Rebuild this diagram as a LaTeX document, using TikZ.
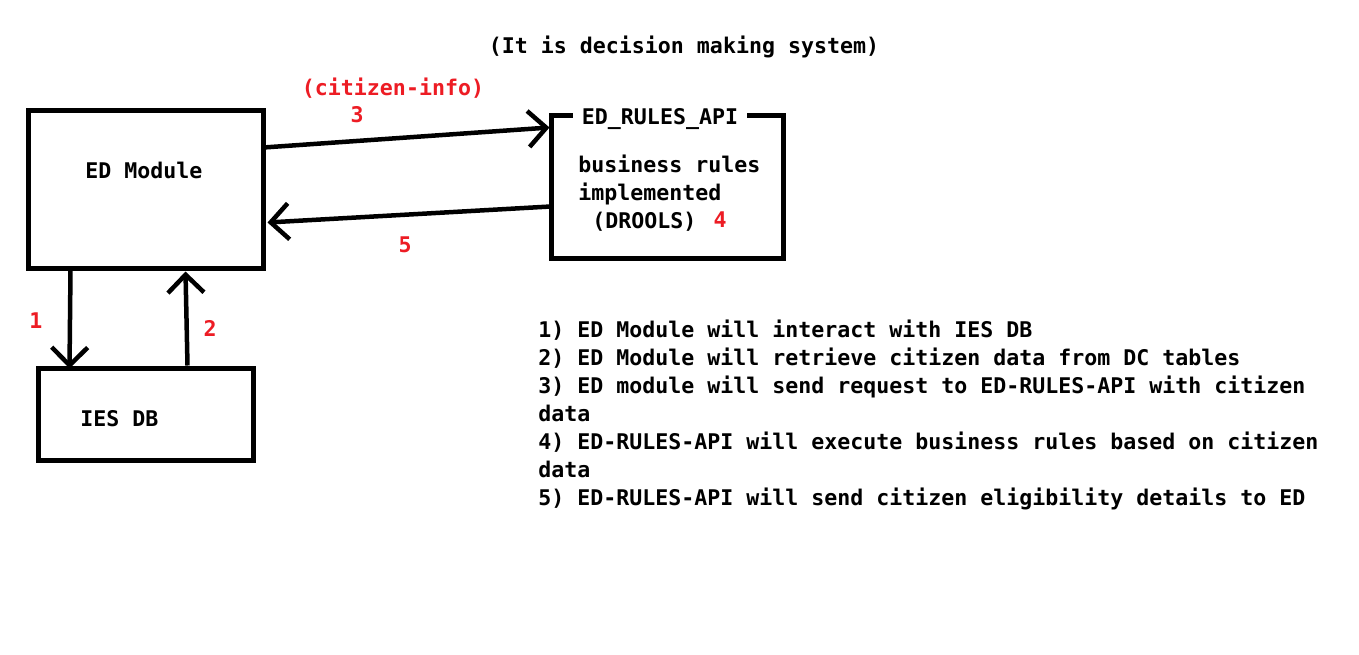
\documentclass[tikz,border=0pt]{standalone}
\usepackage{fontspec}
\newfontfamily\cons{DejaVu Sans Mono}
\usetikzlibrary{arrows.meta,calc}
\definecolor{pred}{RGB}{237,28,36}
\def\u{0.75pt}
\tikzset{
  box/.style={draw=black, line width=5*\u, minimum width=#1, inner sep=0pt},
  txt/.style={font=\cons\bfseries\fontsize{16.2pt}{21pt}\selectfont, inner sep=0pt, text=black},
  rtxt/.style={txt, text=pred},
  arr/.style={line width=4.5*\u, draw=black, -{Straight Barb[length=18*\u, width=36*\u, line width=4.5*\u]}}
}
\begin{document}
\begin{tikzpicture}[x=0.75pt,y=-0.75pt]
\useasboundingbox[fill=white] (0,0) rectangle (1359,654);
% boxes
\node[box=235*\u, minimum height=158*\u] (edm) at (145.5,189) {};
\node[box=215*\u, minimum height=92*\u] (ies) at (145.5,414) {};
\node[box=232*\u, minimum height=143*\u] (api) at (667,186.5) {};
\node[txt, fill=white, inner xsep=9*\u, inner ysep=4*\u, anchor=base] (apit) at (660,124) {ED\_RULES\_API};
% box texts
\node[txt, anchor=base west] (edmt) at (85,178) {ED Module};
\node[txt, anchor=base west] (iest) at (80,426) {IES DB};
\node[txt, anchor=base west] (b1) at (578,172) {business rules};
\node[txt, anchor=base west] (b2) at (578,200) {implemented};
\node[txt, anchor=base west] (b3) at (592,228) {(DROOLS)};
% title
\node[txt, anchor=base] (title) at (684,53) {(It is decision making system)};
% red labels
\node[rtxt, anchor=base] (ci) at (393,95) {(citizen-info)};
\node[rtxt, anchor=base] (n3) at (357,122) {3};
\node[rtxt, anchor=base] (n5) at (405,252) {5};
\node[rtxt, anchor=base] (n4) at (720,227) {4};
\node[rtxt, anchor=base] (n1) at (36,328) {1};
\node[rtxt, anchor=base] (n2) at (210,336) {2};
% connectors
\draw[arr] ($(edm.north east)+(-2,40)$) -- ($(api.north west)+(1,15)$);
\draw[arr] ($(api.north west)+(2,94)$) -- ($(edm.north east)+(2,115)$);
\draw[arr] ($(edm.south west)+(45,0)$) -- ($(ies.north west)+(34,3)$);
\draw[arr] ($(ies.north west)+(152,0)$) -- ($(edm.south west)+(160,1)$);
% list
\node[txt, anchor=base west] (l1) at (538,337) {1) ED Module will interact with IES DB};
\node[txt, anchor=base west] (l2) at (538,365) {2) ED Module will retrieve citizen data from DC tables};
\node[txt, anchor=base west] (l3) at (538,393) {3) ED module will send request to ED-RULES-API with citizen};
\node[txt, anchor=base west] (l4) at (538,421) {data};
\node[txt, anchor=base west] (l5) at (538,449) {4) ED-RULES-API will execute business rules based on citizen};
\node[txt, anchor=base west] (l6) at (538,477) {data};
\node[txt, anchor=base west] (l7) at (538,505) {5) ED-RULES-API will send citizen eligibility details to ED};
\end{tikzpicture}
\end{document}
